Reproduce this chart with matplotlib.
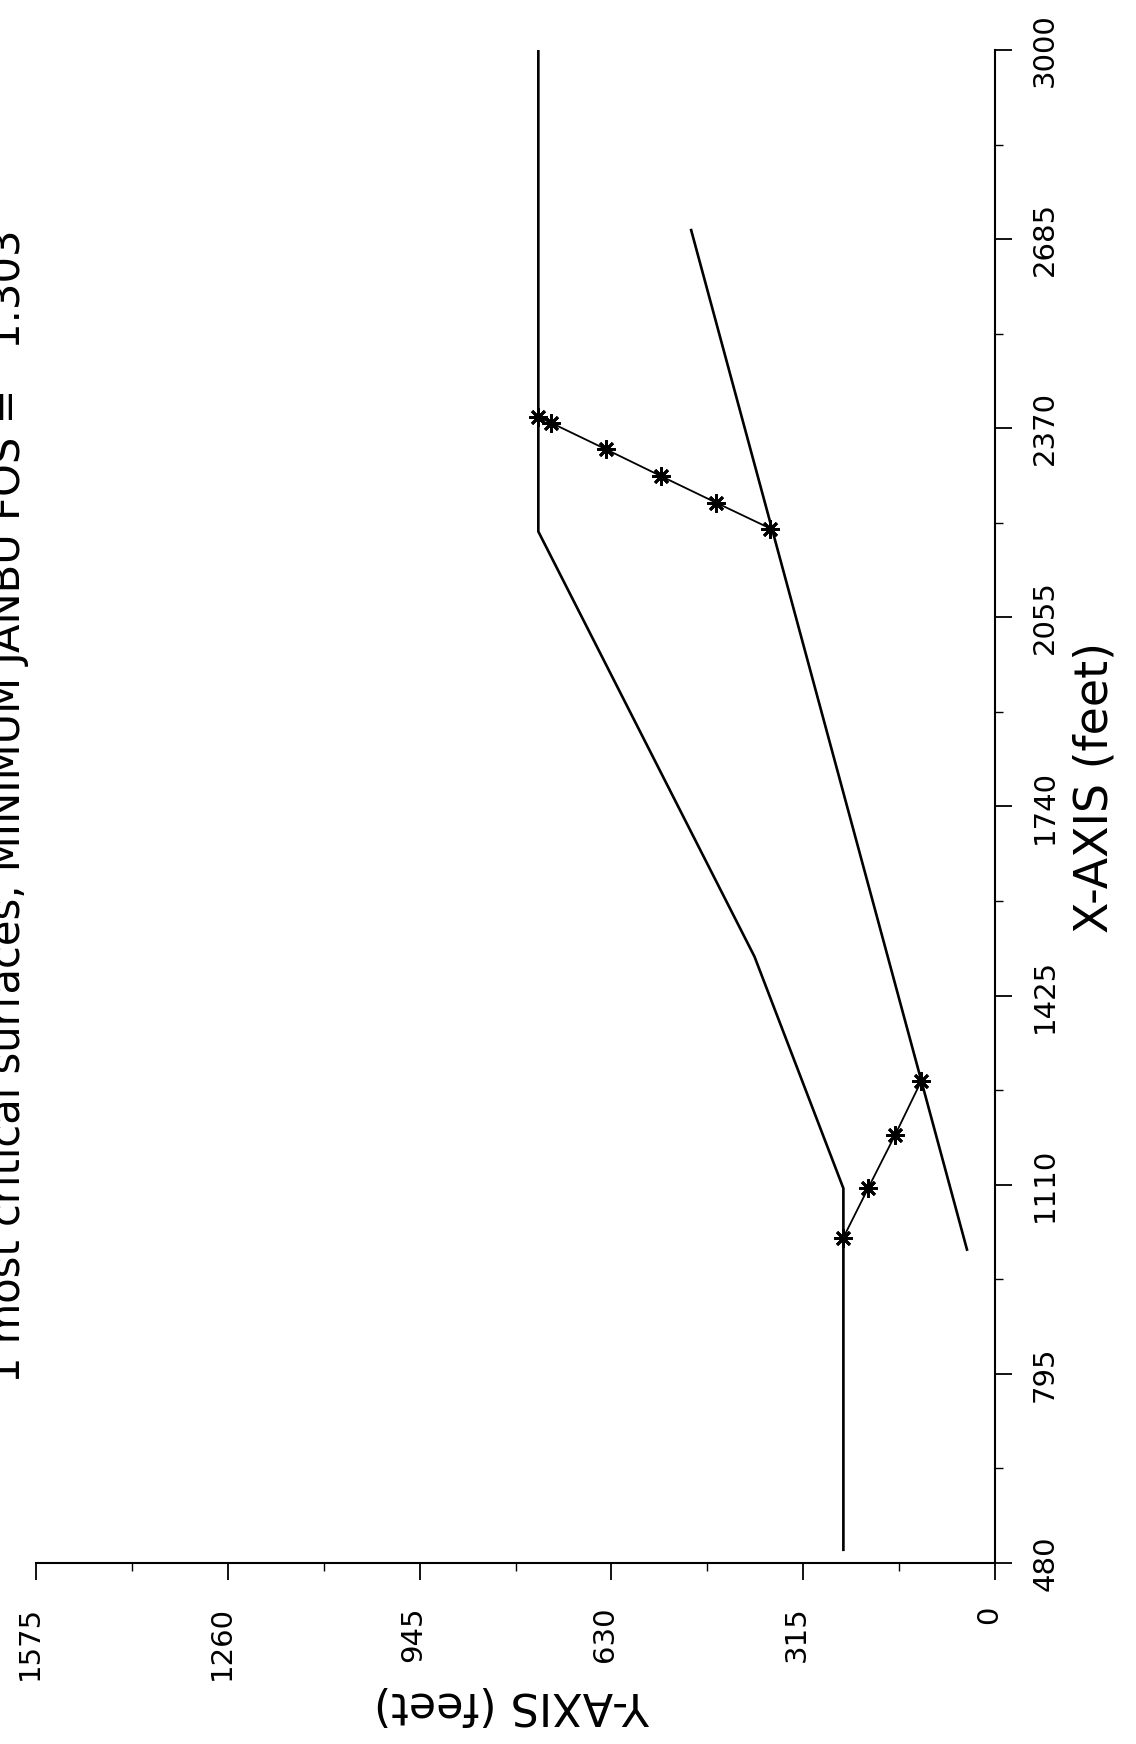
import matplotlib
matplotlib.use("Agg")
import matplotlib.pyplot as plt
import matplotlib.transforms as mtransforms

# slope profile in feet (x = horizontal distance, y = elevation)
ground_x = [502, 1104, 1490, 2198, 3000]
ground_y = [249, 249, 395, 750, 750]

# lower boundary line
layer_x = [1002, 2700]
layer_y = [46, 499]

# points of the critical surface (two pieces)
surf1_x = [1022, 1105, 1193, 1283]
surf1_y = [249, 208, 164, 121]
surf2_x = [2389, 2379, 2335, 2290, 2246, 2203]
surf2_y = [751, 729, 639, 548, 458, 369]

x_ticks = [480, 795, 1110, 1425, 1740, 2055, 2370, 2685, 3000]
y_ticks = [0, 315, 630, 945, 1260, 1575]
title = "1 most critical surfaces, MINIMUM JANBU FOS =   1.303"

W, H = 1136, 1744
fig = plt.figure(figsize=(W / 100, H / 100), dpi=100)
# the plot is printed turned a quarter turn: x runs up, y runs right-to-left
ax = fig.add_axes([36 / W, 1 - 1563 / H, (995 - 36) / W, (1563 - 50) / H])

ax.plot(ground_y, ground_x, color="black", lw=1.9)
ax.plot(layer_y, layer_x, color="black", lw=1.9)
for sx, sy in [(surf1_x, surf1_y), (surf2_x, surf2_y)]:
    ax.plot(sy, sx, color="black", lw=1.3, marker=(8, 2, 0), ms=13, mew=2.0)

ax.set_xlim(1575, 0)
ax.set_ylim(480, 3000)
ax.spines["top"].set_visible(False)
ax.spines["left"].set_visible(False)
ax.spines["right"].set_linewidth(1.5)
ax.spines["bottom"].set_linewidth(1.5)

ax.yaxis.tick_right()
ax.set_yticks(x_ticks)
ax.set_xticks(y_ticks)
ax.set_yticks([(a + b) / 2 for a, b in zip(x_ticks[:-1], x_ticks[1:])], minor=True)
ax.set_xticks([(a + b) / 2 for a, b in zip(y_ticks[:-1], y_ticks[1:])], minor=True)

ax.tick_params(axis="both", which="major", direction="out", length=12,
               width=1.3, labelsize=21)
ax.tick_params(axis="both", which="minor", direction="out", length=6, width=1.0)
ax.tick_params(axis="y", which="major", pad=14, labelrotation=90)
ax.tick_params(axis="x", which="major", pad=19, labelrotation=90)

for lab in ax.get_yticklabels():
    lab.set_va("center")
shift = mtransforms.ScaledTranslation(8 / 100, 0, fig.dpi_scale_trans)
for lab in ax.get_xticklabels():
    lab.set_ha("right")
    lab.set_transform(lab.get_transform() + shift)

ax.yaxis.set_label_position("right")
ax.set_ylabel("X-AXIS (feet)", fontsize=33)
ax.yaxis.set_label_coords((1072 - 36) / (995 - 36), (1563 - 787) / (1563 - 50))

ax.set_xlabel("Y-AXIS (feet)", fontsize=32, rotation=180)
ax.xaxis.label.set_rotation_mode("default")
ax.xaxis.set_label_coords((512 - 36) / (995 - 36), -(1683 - 1563) / (1563 - 50))

fig.text(29 / W, 1 - 806 / H, title, rotation=90, ha="right", va="center",
         fontsize=30)

fig.savefig("out.png", dpi=100)
